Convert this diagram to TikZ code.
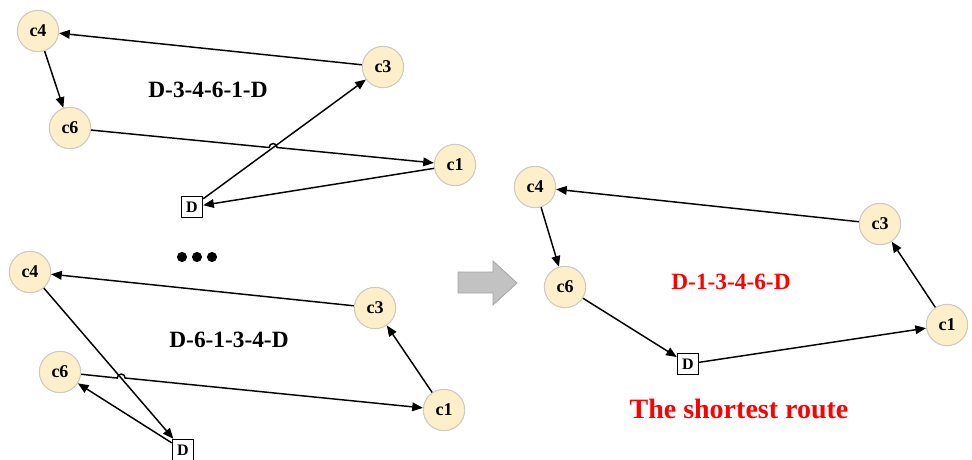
\documentclass[tikz,border=0pt]{standalone}
\usepackage{fontspec}
\setmainfont{Liberation Serif}
\usetikzlibrary{arrows.meta,calc}

\definecolor{custfill}{HTML}{FDEFCA}
\definecolor{custline}{HTML}{CFCAC0}
\definecolor{blockgray}{HTML}{C2C2C2}

\begin{document}
\begin{tikzpicture}[x=0.75pt, y=-0.75pt,
    cust/.style = {circle, draw=custline, fill=custfill, line width=0.8pt,
        minimum size=31pt, inner sep=0pt, font=\fontsize{13.5}{14}\selectfont\bfseries},
    depot/.style = {rectangle, draw=black, fill=white, line width=0.8pt,
        minimum size=16pt, inner sep=0pt, font=\fontsize{12}{12}\selectfont\bfseries},
    route/.style = {font=\fontsize{17.5}{18}\selectfont\bfseries},
    edge/.style = {line width=1.1pt, -{Triangle[length=8pt,width=6.5pt]}}
    ]
    \useasboundingbox (0,0) rectangle (972,460);

    % first tour
    \node[cust] (a4) at (38,31) {c4};
    \node[cust] (a6) at (70,128) {c6};
    \node[cust] (a3) at (383,67) {c3};
    \node[cust] (a1) at (455,165) {c1};
    \node[depot] (aD) at (192,207) {D};
    \node[route] (aR) at (208,90) {D-3-4-6-1-D};

    \draw[edge] (a3) -- (a4);
    \draw[edge] (a4) -- (a6);
    \draw[edge] (a1) -- (aD);
    \draw[edge] (aD) -- (a3);
    \coordinate (aX) at (intersection of a6--a1 and aD--a3);
    \draw[edge] (a6) -- ($(aX)-(3pt,0)$) arc[start angle=180, end angle=0, radius=3pt] -- (a1);

    % dots between the tours
    \foreach \x in {182,197,212}
        \fill (\x,257) circle (3.8pt);

    % second tour
    \node[cust] (b4) at (30,272) {c4};
    \node[cust] (b3) at (375,308) {c3};
    \node[cust] (b6) at (60,372) {c6};
    \node[cust] (b1) at (444,410) {c1};
    \node[depot] (bD) at (183,450) {D};
    \node[route] (bR) at (229,340) {D-6-1-3-4-D};

    \draw[edge] (b3) -- (b4);
    \draw[edge] (b4) -- (bD);
    \draw[edge] (bD) -- (b6);
    \draw[edge] (b1) -- (b3);
    \coordinate (bX) at (intersection of b6--b1 and b4--bD);
    \draw[edge] (b6) -- ($(bX)-(3pt,0)$) arc[start angle=180, end angle=0, radius=3pt] -- (b1);

    % block arrow
    \draw[blockgray!85!black, fill=blockgray, line width=0.6pt]
        (458,272) -- (493,272) -- (493,261) -- (517,283) -- (493,305)
        -- (493,293) -- (458,293) -- cycle;

    % shortest tour
    \node[cust] (c4) at (535,187) {c4};
    \node[cust] (c3) at (880,224) {c3};
    \node[cust] (c6) at (565,287) {c6};
    \node[cust] (c1) at (947,325) {c1};
    \node[depot] (cD) at (688,364) {D};
    \node[route, red] (cR) at (731,282) {D-1-3-4-6-D};
    \node[red, font=\fontsize{21}{22}\selectfont\bfseries] (title) at (739,409) {The shortest route};

    \draw[edge] (cD) -- (c1);
    \draw[edge] (c1) -- (c3);
    \draw[edge] (c3) -- (c4);
    \draw[edge] (c4) -- (c6);
    \draw[edge] (c6) -- (cD);

\end{tikzpicture}
\end{document}
